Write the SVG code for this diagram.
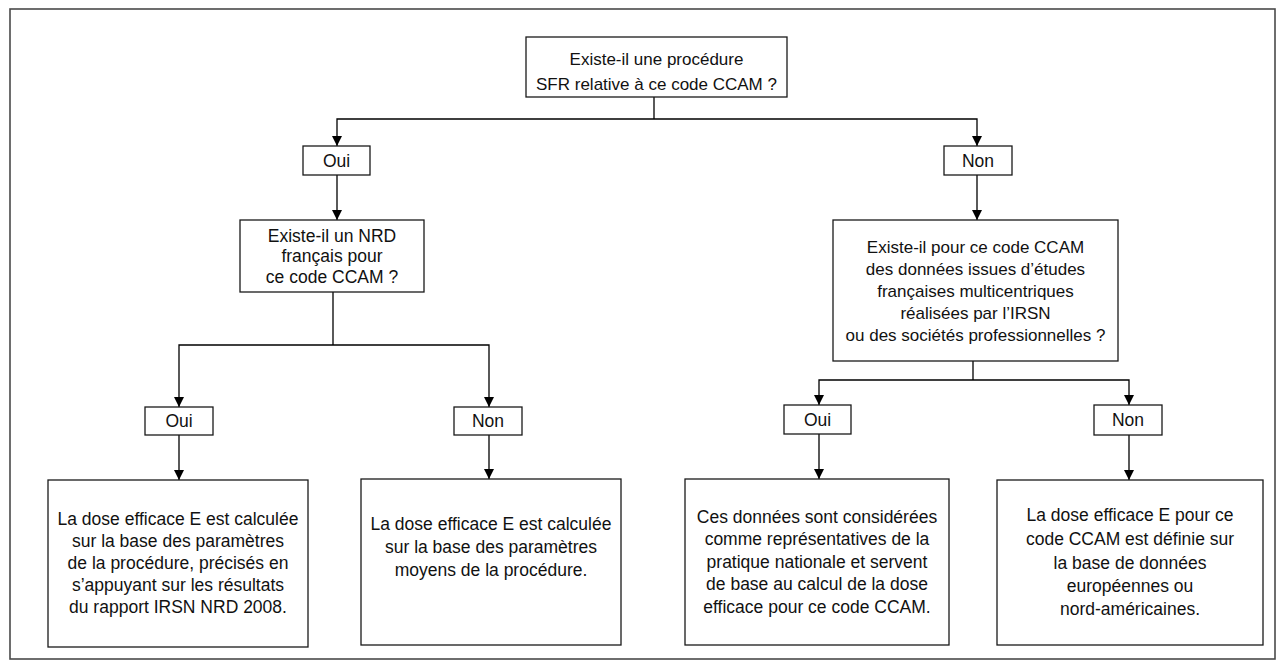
<svg xmlns="http://www.w3.org/2000/svg" width="1284" height="667" viewBox="0 0 1284 667">
<defs>
<marker id="ah" markerWidth="10" markerHeight="12" refX="10" refY="5" orient="auto" markerUnits="userSpaceOnUse" viewBox="0 0 10 10">
<path d="M0,0 L10,5 L0,10 Z" fill="#000"/>
</marker>
<style>
.frame{fill:#fff;stroke:#4a4a4a;stroke-width:1.6}
.box{fill:#fff;stroke:#1a1a1a;stroke-width:1.3}
.t{font-family:"Liberation Sans",Arial,sans-serif;font-size:17.5px;fill:#111;text-anchor:middle}
.s{font-size:17px}
.c{fill:none;stroke:#000;stroke-width:1.3}
.a{fill:none;stroke:#000;stroke-width:1.3;marker-end:url(#ah)}
</style>
</defs>
<rect x="0" y="0" width="1284" height="667" fill="#fff"/>
<rect class="frame" x="10" y="9" width="1265" height="650"/>

<g id="connectors">
<path class="c" d="M654,97 V119"/>
<path class="a" d="M654,119 H337 V146"/>
<path class="a" d="M654,119 H977 V146"/>
<path class="a" d="M337,175 V220"/>
<path class="a" d="M977,175 V220"/>
<path class="c" d="M333,292 V345"/>
<path class="a" d="M333,345 H179 V407"/>
<path class="a" d="M333,345 H489 V407"/>
<path class="a" d="M179,435 V480"/>
<path class="a" d="M489,435 V479"/>
<path class="c" d="M973,361 V380"/>
<path class="a" d="M973,380 H819 V405"/>
<path class="a" d="M973,380 H1129 V405"/>
<path class="a" d="M819,434 V479"/>
<path class="a" d="M1129,435 V480"/>
</g>

<g id="q1">
<rect class="box" x="526" y="37" width="261" height="60"/>
<text class="t s" x="656.5" y="65">Existe-il une procédure</text>
<text class="t s" x="656.5" y="90">SFR relative à ce code CCAM ?</text>
</g>

<g id="oui1">
<rect class="box" x="303" y="146" width="67" height="29"/>
<text class="t" x="336.5" y="166.5">Oui</text>
</g>

<g id="non1">
<rect class="box" x="944" y="146" width="68" height="29"/>
<text class="t" x="978" y="166.5">Non</text>
</g>

<g id="q2">
<rect class="box" x="240" y="220" width="184" height="72"/>
<text class="t" x="332" y="241.5">Existe-il un NRD</text>
<text class="t" x="332" y="262">français pour</text>
<text class="t" x="332" y="283">ce code CCAM ?</text>
</g>

<g id="q3">
<rect class="box" x="833" y="220" width="285" height="141"/>
<text class="t s" x="975.5" y="253">Existe-il pour ce code CCAM</text>
<text class="t s" x="975.5" y="275">des données issues d’études</text>
<text class="t s" x="975.5" y="297">françaises multicentriques</text>
<text class="t s" x="975.5" y="319">réalisées par l’IRSN</text>
<text class="t s" x="975.5" y="341">ou des sociétés professionnelles ?</text>
</g>

<g id="oui2">
<rect class="box" x="145" y="407" width="68" height="28"/>
<text class="t" x="179" y="427">Oui</text>
</g>

<g id="non2">
<rect class="box" x="454" y="407" width="68" height="28"/>
<text class="t" x="488" y="427">Non</text>
</g>

<g id="oui3">
<rect class="box" x="784" y="405" width="67" height="29"/>
<text class="t" x="817.5" y="425.5">Oui</text>
</g>

<g id="non3">
<rect class="box" x="1094" y="405" width="68" height="30"/>
<text class="t" x="1128" y="426">Non</text>
</g>

<g id="r1">
<rect class="box" x="48" y="480" width="260" height="167"/>
<text class="t" x="178" y="525">La dose efficace E est calculée</text>
<text class="t" x="178" y="547">sur la base des paramètres</text>
<text class="t" x="178" y="569">de la procédure, précisés en</text>
<text class="t" x="178" y="591">s’appuyant sur les résultats</text>
<text class="t" x="178" y="613">du rapport IRSN NRD 2008.</text>
</g>

<g id="r2">
<rect class="box" x="361" y="479" width="260" height="166"/>
<text class="t" x="491" y="530">La dose efficace E est calculée</text>
<text class="t" x="491" y="553">sur la base des paramètres</text>
<text class="t" x="491" y="576">moyens de la procédure.</text>
</g>

<g id="r3">
<rect class="box" x="685" y="479" width="264" height="166"/>
<text class="t" x="817" y="523">Ces données sont considérées</text>
<text class="t" x="817" y="545">comme représentatives de la</text>
<text class="t" x="817" y="568">pratique nationale et servent</text>
<text class="t" x="817" y="590">de base au calcul de la dose</text>
<text class="t" x="817" y="613">efficace pour ce code CCAM.</text>
</g>

<g id="r4">
<rect class="box" x="997" y="480" width="266" height="165"/>
<text class="t" x="1130" y="521">La dose efficace E pour ce</text>
<text class="t" x="1130" y="545">code CCAM est définie sur</text>
<text class="t" x="1130" y="569">la base de données</text>
<text class="t" x="1130" y="592">européennes ou</text>
<text class="t" x="1130" y="615">nord-américaines.</text>
</g>
</svg>
